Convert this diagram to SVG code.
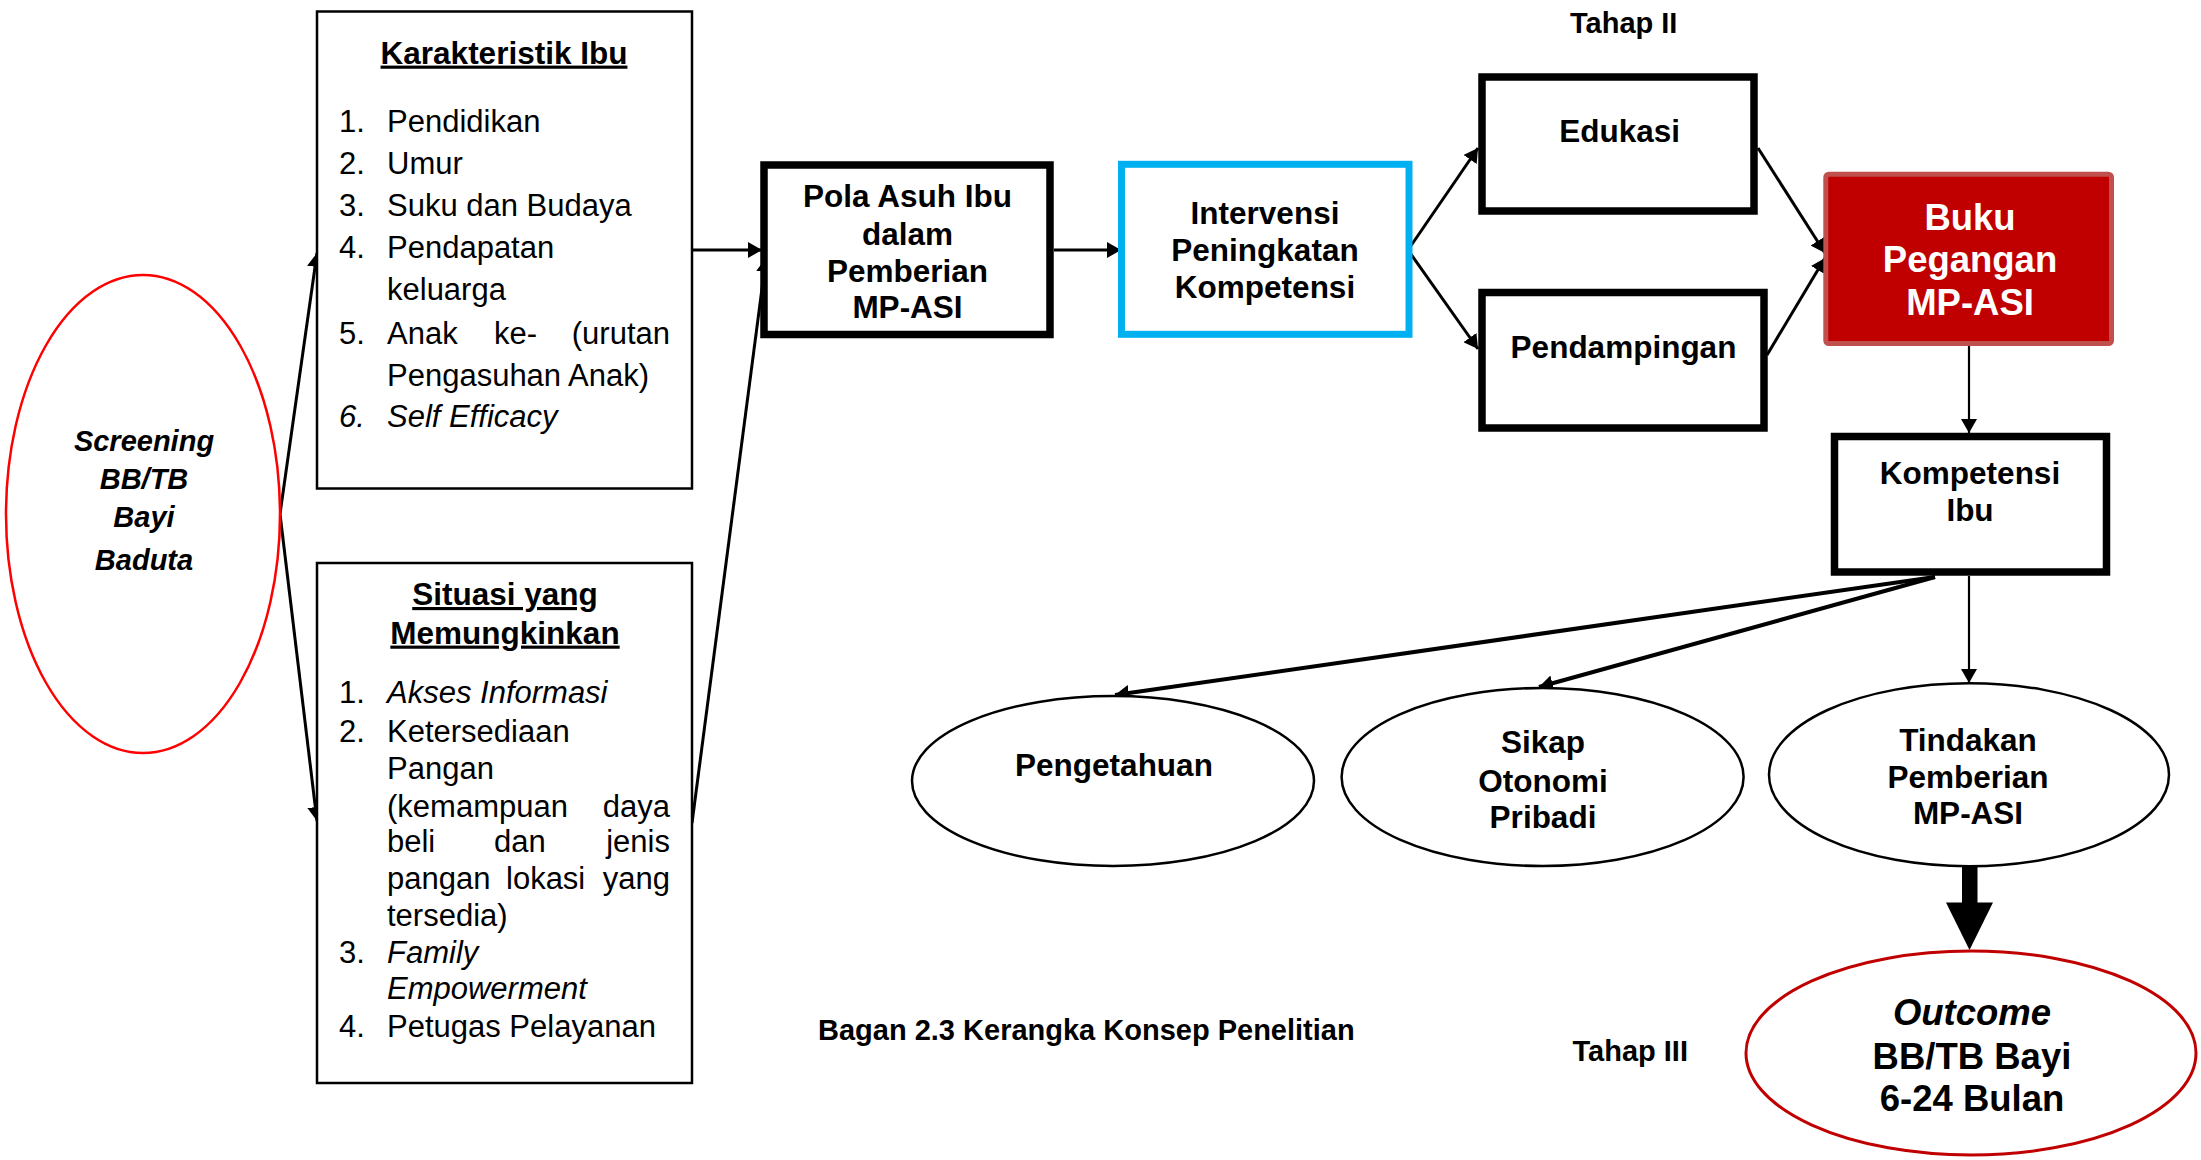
<svg xmlns="http://www.w3.org/2000/svg" width="2201" height="1160" viewBox="0 0 2201 1160">
  <style>
    text { font-family: "Liberation Sans", Arial, sans-serif; fill: #000; }
    .lbl { font-size: 31.5px; font-weight: bold; text-anchor: middle; }
    .big { font-size: 36.5px; font-weight: bold; text-anchor: middle; }
    .item { font-size: 31px; }
    .it { font-style: italic; }
    .ttl { font-size: 31.5px; font-weight: bold; text-anchor: middle; text-decoration: underline; }
    .cap { font-size: 29px; font-weight: bold; }
    .end { text-anchor: end; }
    .thin { fill: #fff; stroke: #000; stroke-width: 2.5; }
    .thick { fill: #fff; stroke: #000; stroke-width: 7.5; }
    .node-ell { fill: #fff; stroke: #000; stroke-width: 2.5; }
    .conn { fill: none; stroke: #000; stroke-width: 3; marker-end: url(#head); }
    .conn-thin { fill: none; stroke: #000; stroke-width: 2.2; marker-end: url(#head); }
    .conn-bold { fill: none; stroke: #000; stroke-width: 4; marker-end: url(#head); }
  </style>
  <defs>
    <marker id="head" markerUnits="userSpaceOnUse" markerWidth="15" markerHeight="16" refX="14" refY="8" orient="auto">
      <path d="M0,0 L14,8 L0,16 z" fill="#000"/>
    </marker>
  </defs>

  <rect width="2201" height="1160" fill="#fff"/>

  <!-- connectors -->
  <g id="connectors">
    <path class="conn" d="M280,514 L317,253"/>
    <path class="conn" d="M280,514 L317,821"/>
    <path class="conn" d="M692,250 L762,250"/>
    <path class="conn" d="M692,823 L766,258"/>
    <path class="conn" d="M1054,250 L1121,250"/>
    <path class="conn" d="M1408,250 L1478,148"/>
    <path class="conn" d="M1408,250 L1478,349"/>
    <path class="conn" d="M1758,148 L1825,253"/>
    <path class="conn" d="M1767,355 L1825,258"/>
    <path class="conn-thin" d="M1969,346 L1969,433"/>
    <path class="conn-bold" d="M1935,577 L1115,695"/>
    <path class="conn-bold" d="M1935,577 L1539,687"/>
    <path class="conn-thin" d="M1969,576 L1969,683"/>
    <!-- block arrow into the outcome -->
    <rect x="1962" y="864" width="15.5" height="40" fill="#000"/>
    <polygon points="1946,902.5 1993,902.5 1969.5,950" fill="#000"/>
  </g>

  <!-- screening -->
  <g id="screening">
    <ellipse cx="143" cy="514" rx="137" ry="239" fill="#fff" stroke="#FF0000" stroke-width="2.5"/>
    <text class="cap it" x="144" y="451" text-anchor="middle">Screening</text>
    <text class="cap it" x="144" y="489" text-anchor="middle">BB/TB</text>
    <text class="cap it" x="144" y="527" text-anchor="middle">Bayi</text>
    <text class="cap it" x="144" y="570" text-anchor="middle">Baduta</text>
  </g>

  <!-- maternal characteristics -->
  <g id="karakteristik-ibu">
    <rect class="thin" x="317" y="11.5" width="375" height="477"/>
    <text class="ttl" x="504" y="63.6">Karakteristik Ibu</text>
    <text class="item" x="339" y="132">1.</text><text class="item" x="387" y="132">Pendidikan</text>
    <text class="item" x="339" y="174">2.</text><text class="item" x="387" y="174">Umur</text>
    <text class="item" x="339" y="216">3.</text><text class="item" x="387" y="216">Suku dan Budaya</text>
    <text class="item" x="339" y="258">4.</text><text class="item" x="387" y="258">Pendapatan</text>
    <text class="item" x="387" y="300">keluarga</text>
    <text class="item" x="339" y="343.5">5.</text><text class="item" x="387" y="343.5">Anak</text>
    <text class="item" x="494" y="343.5">ke-</text><text class="item end" x="670" y="343.5">(urutan</text>
    <text class="item" x="387" y="385.7">Pengasuhan Anak)</text>
    <text class="item it" x="339" y="427">6.</text><text class="item it" x="387" y="427">Self Efficacy</text>
  </g>

  <!-- enabling situation -->
  <g id="situasi">
    <rect class="thin" x="317" y="563" width="375" height="520"/>
    <text class="ttl" x="505" y="605">Situasi yang</text>
    <text class="ttl" x="505" y="643.6">Memungkinkan</text>
    <text class="item" x="339" y="703.3">1.</text><text class="item it" x="387" y="703.3">Akses Informasi</text>
    <text class="item" x="339" y="742.4">2.</text><text class="item" x="387" y="742.4">Ketersediaan</text>
    <text class="item" x="387" y="779">Pangan</text>
    <text class="item" x="387" y="816.8">(kemampuan</text><text class="item end" x="670" y="816.8">daya</text>
    <text class="item" x="387" y="852.4">beli</text><text class="item" x="494" y="852.4">dan</text><text class="item end" x="670" y="852.4">jenis</text>
    <text class="item" x="387" y="888.7">pangan</text><text class="item" x="506" y="888.7">lokasi</text><text class="item end" x="670" y="888.7">yang</text>
    <text class="item" x="387" y="925.5">tersedia)</text>
    <text class="item" x="339" y="963">3.</text><text class="item it" x="387" y="963">Family</text>
    <text class="item it" x="387" y="998.7">Empowerment</text>
    <text class="item" x="339" y="1037.4">4.</text><text class="item" x="387" y="1037.4">Petugas Pelayanan</text>
  </g>

  <g id="pola-asuh">
    <rect class="thick" x="764" y="165" width="286" height="169.5" stroke-width="7"/>
    <text class="lbl" x="907.5" y="207">Pola Asuh Ibu</text>
    <text class="lbl" x="907.5" y="244.6">dalam</text>
    <text class="lbl" x="907.5" y="282">Pemberian</text>
    <text class="lbl" x="907.5" y="318">MP-ASI</text>
  </g>

  <g id="intervensi">
    <rect x="1121.5" y="164.3" width="287.5" height="170" fill="#fff" stroke="#00B0F0" stroke-width="7"/>
    <text class="lbl" x="1265" y="224">Intervensi</text>
    <text class="lbl" x="1265" y="260.7">Peningkatan</text>
    <text class="lbl" x="1265" y="297.5">Kompetensi</text>
  </g>

  <g id="tahap-2">
    <text class="cap" x="1570" y="32.5">Tahap II</text>
  </g>

  <g id="edukasi">
    <rect class="thick" x="1482" y="77" width="272" height="134" stroke-width="8"/>
    <text class="lbl" x="1619.6" y="141.6">Edukasi</text>
  </g>

  <g id="pendampingan">
    <rect class="thick" x="1482" y="292.5" width="282" height="135.5" stroke-width="8"/>
    <text class="lbl" x="1623.5" y="357.8">Pendampingan</text>
  </g>

  <g id="buku-pegangan">
    <rect x="1825.8" y="174.2" width="285.7" height="169.3" rx="3" fill="#C00000" stroke="#C0504D" stroke-width="5"/>
    <text class="big" x="1970" y="230" style="fill:#fff">Buku</text>
    <text class="big" x="1970" y="271.7" style="fill:#fff">Pegangan</text>
    <text class="big" x="1970" y="315" style="fill:#fff">MP-ASI</text>
  </g>

  <g id="kompetensi-ibu">
    <rect class="thick" x="1834.5" y="436.5" width="272" height="135.5"/>
    <text class="lbl" x="1970" y="484">Kompetensi</text>
    <text class="lbl" x="1970" y="520.5">Ibu</text>
  </g>

  <g id="pengetahuan">
    <ellipse class="node-ell" cx="1113" cy="781" rx="201" ry="85"/>
    <text class="lbl" x="1114" y="776">Pengetahuan</text>
  </g>

  <g id="sikap">
    <ellipse class="node-ell" cx="1542.6" cy="777" rx="201" ry="89"/>
    <text class="lbl" x="1543" y="753">Sikap</text>
    <text class="lbl" x="1543" y="791.5">Otonomi</text>
    <text class="lbl" x="1543" y="828">Pribadi</text>
  </g>

  <g id="tindakan">
    <ellipse class="node-ell" cx="1969" cy="774.7" rx="200" ry="91.5"/>
    <text class="lbl" x="1968" y="751.4">Tindakan</text>
    <text class="lbl" x="1968" y="787.7">Pemberian</text>
    <text class="lbl" x="1968" y="824">MP-ASI</text>
  </g>

  <g id="outcome">
    <ellipse cx="1971" cy="1053" rx="225" ry="102" fill="#fff" stroke="#C00000" stroke-width="3"/>
    <text class="big it" x="1972" y="1025">Outcome</text>
    <text class="big" x="1972" y="1069">BB/TB Bayi</text>
    <text class="big" x="1972" y="1111">6-24 Bulan</text>
  </g>

  <g id="tahap-3">
    <text class="cap" x="1572.5" y="1061">Tahap III</text>
  </g>

  <text class="cap" x="818" y="1040">Bagan 2.3 Kerangka Konsep Penelitian</text>
</svg>
